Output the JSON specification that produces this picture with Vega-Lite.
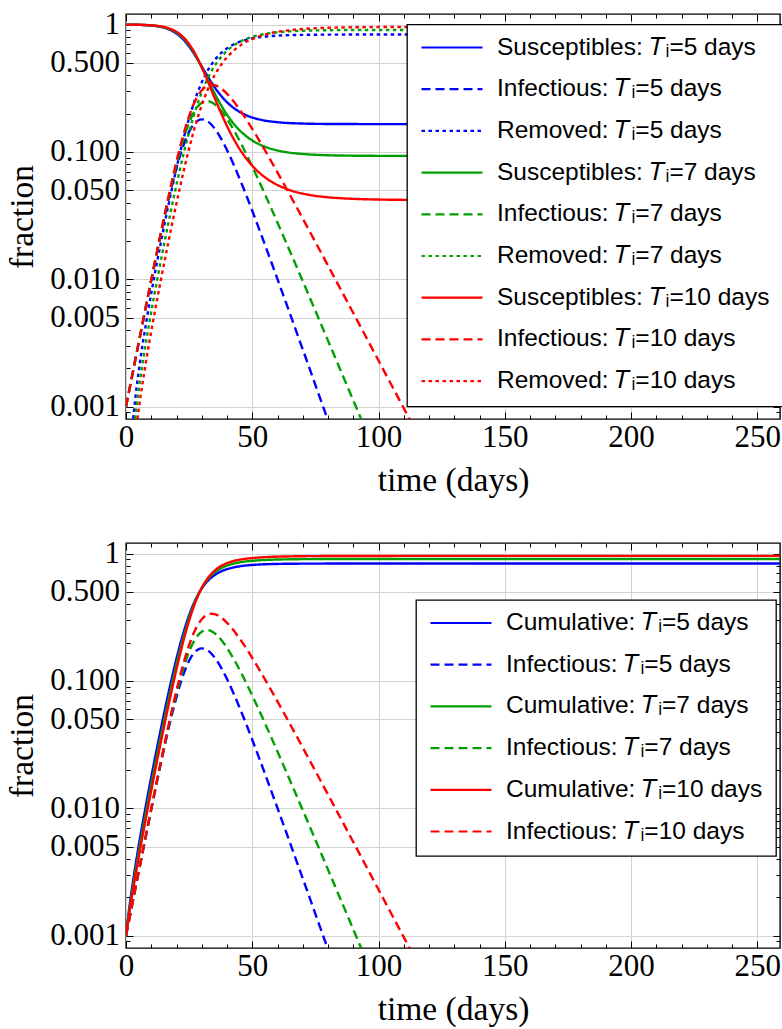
{
  "$schema": "https://vega.github.io/schema/vega-lite/v6.json",
  "padding": {"left": 5, "top": 7, "right": 0, "bottom": 0},
  "background": "white",
  "datasets": {
    "m": [
      {"t": 0, "S5": 0.999, "I5": 0.001, "C5": 0.001},
      {"t": 0.901, "S5": 0.998569, "I5": 0.0012306, "R5": 0.0002, "C5": 0.001431},
      {"t": 1.977, "S5": 0.997924, "I5": 0.001576, "R5": 0.0005, "C5": 0.002076},
      {"t": 3.33, "S5": 0.996849, "I5": 0.002151, "R5": 0.001, "C5": 0.003151},
      {"t": 5.191, "S5": 0.994703, "I5": 0.003297, "R5": 0.002, "C5": 0.005297},
      {"t": 8.314, "S5": 0.988293, "I5": 0.006707, "R5": 0.005, "C5": 0.011707},
      {"t": 11.022, "S5": 0.977699, "I5": 0.012301, "R5": 0.01, "C5": 0.022301},
      {"t": 13.931, "S5": 0.956853, "I5": 0.023147, "R5": 0.02, "C5": 0.043147},
      {"t": 18.054, "S5": 0.896942, "I5": 0.053058, "R5": 0.05, "C5": 0.103058},
      {"t": 21.493, "S5": 0.805317, "I5": 0.094683, "R5": 0.1, "C5": 0.194683},
      {"t": 23.75, "S5": 0.723041, "I5": 0.126959, "R5": 0.15, "C5": 0.276959},
      {"t": 25.545, "S5": 0.649177, "I5": 0.150823, "R5": 0.2, "C5": 0.350823},
      {"t": 27.114, "S5": 0.582858, "I5": 0.167142, "R5": 0.25, "C5": 0.417142},
      {"t": 28.563, "S5": 0.523313, "I5": 0.176687, "R5": 0.3, "C5": 0.476687},
      {"t": 29.961, "S5": 0.469853, "I5": 0.180147, "R5": 0.35, "C5": 0.530147},
      {"t": 31.353, "S5": 0.421852, "I5": 0.178148, "R5": 0.4, "C5": 0.578148},
      {"t": 32.781, "S5": 0.378756, "I5": 0.171244, "R5": 0.45, "C5": 0.621244},
      {"t": 34.288, "S5": 0.340063, "I5": 0.159937, "R5": 0.5, "C5": 0.659937},
      {"t": 35.927, "S5": 0.305322, "I5": 0.144678, "R5": 0.55, "C5": 0.694678},
      {"t": 37.775, "S5": 0.274131, "I5": 0.125869, "R5": 0.6, "C5": 0.725869},
      {"t": 39.953, "S5": 0.246126, "I5": 0.103874, "R5": 0.65, "C5": 0.753874},
      {"t": 42.697, "S5": 0.220982, "I5": 0.079018, "R5": 0.7, "C5": 0.779018},
      {"t": 46.571, "S5": 0.198406, "I5": 0.051594, "R5": 0.75, "C5": 0.801594},
      {"t": 53.753, "S5": 0.178138, "I5": 0.021862, "R5": 0.8, "C5": 0.821862},
      {"t": 60, "S5": 0.171173, "I5": 0.010022, "R5": 0.818805, "C5": 0.828827},
      {"t": 70, "S5": 0.166949, "I5": 0.002814, "R5": 0.830237, "C5": 0.833051},
      {"t": 80, "S5": 0.165756, "I5": 0.000779, "R5": 0.833465, "C5": 0.834244},
      {"t": 90, "S5": 0.165426, "I5": 0.000215, "R5": 0.834359, "C5": 0.834574},
      {"t": 120, "S5": 0.16531, "R5": 0.83469, "C5": 0.83469},
      {"t": 260, "S5": 0.1653, "R5": 0.8347, "C5": 0.8347},

      {"t": 0, "S7": 0.999, "I7": 0.001, "C7": 0.001},
      {"t": 1.215, "S7": 0.998477, "I7": 0.001323, "R7": 0.0002, "C7": 0.001523},
      {"t": 2.57, "S7": 0.997693, "I7": 0.001807, "R7": 0.0005, "C7": 0.002307},
      {"t": 4.173, "S7": 0.996389, "I7": 0.002611, "R7": 0.001, "C7": 0.003611},
      {"t": 6.261, "S7": 0.993785, "I7": 0.004215, "R7": 0.002, "C7": 0.006215},
      {"t": 9.591, "S7": 0.986015, "I7": 0.008985, "R7": 0.005, "C7": 0.013985},
      {"t": 12.386, "S7": 0.973192, "I7": 0.016808, "R7": 0.01, "C7": 0.026808},
      {"t": 15.348, "S7": 0.94805, "I7": 0.03195, "R7": 0.02, "C7": 0.05195},
      {"t": 19.518, "S7": 0.876457, "I7": 0.073543, "R7": 0.05, "C7": 0.123543},
      {"t": 22.993, "S7": 0.768946, "I7": 0.131054, "R7": 0.1, "C7": 0.231054},
      {"t": 25.277, "S7": 0.674623, "I7": 0.175377, "R7": 0.15, "C7": 0.325377},
      {"t": 27.098, "S7": 0.59187, "I7": 0.20813, "R7": 0.2, "C7": 0.40813},
      {"t": 28.689, "S7": 0.519268, "I7": 0.230732, "R7": 0.25, "C7": 0.480732},
      {"t": 30.159, "S7": 0.455571, "I7": 0.244429, "R7": 0.3, "C7": 0.544429},
      {"t": 31.57, "S7": 0.399688, "I7": 0.250312, "R7": 0.35, "C7": 0.600312},
      {"t": 32.968, "S7": 0.35066, "I7": 0.24934, "R7": 0.4, "C7": 0.64934},
      {"t": 34.389, "S7": 0.307646, "I7": 0.242354, "R7": 0.45, "C7": 0.692354},
      {"t": 35.868, "S7": 0.269909, "I7": 0.230091, "R7": 0.5, "C7": 0.730091},
      {"t": 37.446, "S7": 0.2368, "I7": 0.2132, "R7": 0.55, "C7": 0.7632},
      {"t": 39.17, "S7": 0.207753, "I7": 0.192247, "R7": 0.6, "C7": 0.792247},
      {"t": 41.116, "S7": 0.18227, "I7": 0.16773, "R7": 0.65, "C7": 0.81773},
      {"t": 43.392, "S7": 0.159911, "I7": 0.140089, "R7": 0.7, "C7": 0.840089},
      {"t": 46.203, "S7": 0.140295, "I7": 0.109705, "R7": 0.75, "C7": 0.859705},
      {"t": 49.986, "S7": 0.123085, "I7": 0.076915, "R7": 0.8, "C7": 0.876915},
      {"t": 56.033, "S7": 0.107987, "I7": 0.042013, "R7": 0.85, "C7": 0.892013},
      {"t": 63.075, "S7": 0.099833, "I7": 0.020167, "R7": 0.88, "C7": 0.900167},
      {"t": 70, "S7": 0.096291, "I7": 0.009667, "R7": 0.894042, "C7": 0.903709},
      {"t": 80, "S7": 0.094143, "I7": 0.003299, "R7": 0.902558, "C7": 0.905857},
      {"t": 90, "S7": 0.093408, "I7": 0.001121, "R7": 0.905471, "C7": 0.906592},
      {"t": 100, "S7": 0.093159, "I7": 0.000381, "R7": 0.90646, "C7": 0.906841},
      {"t": 130, "S7": 0.09304, "R7": 0.90696, "C7": 0.90696},
      {"t": 260, "S7": 0.09303, "R7": 0.90697, "C7": 0.90697},

      {"t": 0, "S10": 0.999, "I10": 0.001, "C10": 0.001},
      {"t": 1.646, "S10": 0.998339, "I10": 0.001461, "R10": 0.0002, "C10": 0.001661},
      {"t": 3.329, "S10": 0.997348, "I10": 0.002152, "R10": 0.0005, "C10": 0.002652},
      {"t": 5.191, "S10": 0.995698, "I10": 0.003302, "R10": 0.001, "C10": 0.004302},
      {"t": 7.489, "S10": 0.992408, "I10": 0.005592, "R10": 0.002, "C10": 0.007592},
      {"t": 10.989, "S10": 0.9826, "I10": 0.0124, "R10": 0.005, "C10": 0.0174},
      {"t": 13.863, "S10": 0.966469, "I10": 0.023531, "R10": 0.01, "C10": 0.033531},
      {"t": 16.875, "S10": 0.934999, "I10": 0.045001, "R10": 0.02, "C10": 0.065001},
      {"t": 21.104, "S10": 0.846602, "I10": 0.103398, "R10": 0.05, "C10": 0.153398},
      {"t": 24.649, "S10": 0.717452, "I10": 0.182548, "R10": 0.1, "C10": 0.282548},
      {"t": 27.003, "S10": 0.608004, "I10": 0.241996, "R10": 0.15, "C10": 0.391996},
      {"t": 28.897, "S10": 0.515252, "I10": 0.284748, "R10": 0.2, "C10": 0.484748},
      {"t": 30.564, "S10": 0.436651, "I10": 0.313349, "R10": 0.25, "C10": 0.563349},
      {"t": 32.114, "S10": 0.370039, "I10": 0.329961, "R10": 0.3, "C10": 0.629961},
      {"t": 33.612, "S10": 0.313589, "I10": 0.336411, "R10": 0.35, "C10": 0.686411},
      {"t": 35.1, "S10": 0.265751, "I10": 0.334249, "R10": 0.4, "C10": 0.734249},
      {"t": 36.615, "S10": 0.225211, "I10": 0.324789, "R10": 0.45, "C10": 0.774789},
      {"t": 38.19, "S10": 0.190854, "I10": 0.309146, "R10": 0.5, "C10": 0.809146},
      {"t": 39.862, "S10": 0.161739, "I10": 0.288261, "R10": 0.55, "C10": 0.838261},
      {"t": 41.675, "S10": 0.137066, "I10": 0.262934, "R10": 0.6, "C10": 0.862934},
      {"t": 43.688, "S10": 0.116156, "I10": 0.233844, "R10": 0.65, "C10": 0.883844},
      {"t": 45.987, "S10": 0.098436, "I10": 0.201564, "R10": 0.7, "C10": 0.901564},
      {"t": 48.708, "S10": 0.083419, "I10": 0.166581, "R10": 0.75, "C10": 0.916581},
      {"t": 52.102, "S10": 0.070694, "I10": 0.129306, "R10": 0.8, "C10": 0.929306},
      {"t": 56.703, "S10": 0.05991, "I10": 0.09009, "R10": 0.85, "C10": 0.94009},
      {"t": 64.084, "S10": 0.05077, "I10": 0.04923, "R10": 0.9, "C10": 0.94923},
      {"t": 72.612, "S10": 0.04597, "I10": 0.02403, "R10": 0.93, "C10": 0.95403},
      {"t": 80, "S10": 0.044064, "I10": 0.012815, "R10": 0.943121, "C10": 0.955936},
      {"t": 90, "S10": 0.042809, "I10": 0.005438, "R10": 0.951753, "C10": 0.957191},
      {"t": 100, "S10": 0.042276, "I10": 0.002301, "R10": 0.955423, "C10": 0.957724},
      {"t": 110, "S10": 0.04205, "I10": 0.000973, "R10": 0.956977, "C10": 0.95795},
      {"t": 120, "S10": 0.041955, "I10": 0.000411, "R10": 0.957634, "C10": 0.958045},
      {"t": 160, "S10": 0.04189, "R10": 0.95811, "C10": 0.95811},
      {"t": 260, "S10": 0.041885, "R10": 0.958115, "C10": 0.958115}
    ]
  },
  "spacing": 124,
  "bounds": "flush",
  "vconcat": [
    {
      "width": 654,
      "height": 405,
      "data": {"name": "m"},
      "transform": [
        {"fold": ["S5", "I5", "R5", "S7", "I7", "R7", "S10", "I10", "R10"], "as": ["s", "v"]},
        {"filter": "isValid(datum.v) && datum.v > 0"}
      ],
      "layer": [
        {
          "mark": {"type": "line", "strokeWidth": 2.4, "clip": true, "interpolate": "monotone"},
          "encoding": {
            "x": {"field": "t", "type": "quantitative", "scale": {"domain": [0, 259], "nice": false, "zero": false},
                  "axis": {"orient": "bottom", "values": [0, 50, 100, 150, 200, 250], "tickSize": -7, "grid": true, "labelPadding": 10, "title": "time (days)", "titlePadding": 12}},
            "y": {"field": "v", "type": "quantitative", "scale": {"type": "log", "domain": [0.0008, 1.21], "nice": false},
                  "axis": {"orient": "left", "values": [0.001, 0.005, 0.01, 0.05, 0.1, 0.5, 1], "labelExpr": "datum.value >= 1 ? '1' : format(datum.value, '.3f')", "tickSize": -7, "grid": true, "labelPadding": 13.5, "title": "fraction", "titlePadding": 10}},
            "color": {"field": "s", "type": "nominal",
                      "scale": {"domain": ["S5", "I5", "R5", "S7", "I7", "R7", "S10", "I10", "R10"],
                                "range": ["#0000ff", "#0000ff", "#0000ff", "#00a000", "#00a000", "#00a000", "#ff0000", "#ff0000", "#ff0000"]},
                      "legend": {"orient": "none", "legendX": 281, "legendY": 10.5, "title": null,
                                 "labelExpr": "(slice(datum.label,0,1)=='S' ? 'Susceptibles' : slice(datum.label,0,1)=='I' ? 'Infectious' : slice(datum.label,0,1)=='R' ? 'Removed' : 'Cumulative') + ': 𝑇ᵢ=' + slice(datum.label,1) + ' days'"}},
            "strokeDash": {"field": "s", "type": "nominal",
                      "scale": {"domain": ["S5", "I5", "R5", "S7", "I7", "R7", "S10", "I10", "R10"],
                                "range": [[1, 0], [9, 5], [3.5, 3.5], [1, 0], [9, 5], [3.5, 3.5], [1, 0], [9, 5], [3.5, 3.5]]},
                      "legend": {"orient": "none", "legendX": 281, "legendY": 10.5, "title": null,
                                 "labelExpr": "(slice(datum.label,0,1)=='S' ? 'Susceptibles' : slice(datum.label,0,1)=='I' ? 'Infectious' : slice(datum.label,0,1)=='R' ? 'Removed' : 'Cumulative') + ': 𝑇ᵢ=' + slice(datum.label,1) + ' days'"}}
          }
        },
        {
          "mark": {"type": "point", "opacity": 0},
          "encoding": {
            "x": {"field": "t", "type": "quantitative", "axis": {"orient": "bottom", "values": [10, 20, 30, 40, 60, 70, 80, 90, 110, 120, 130, 140, 160, 170, 180, 190, 210, 220, 230, 240], "tickSize": -4, "labels": false, "grid": false, "title": null}},
            "y": {"field": "v", "type": "quantitative", "axis": {"orient": "left", "values": [0.0009, 0.002, 0.003, 0.004, 0.006, 0.007, 0.008, 0.009, 0.02, 0.03, 0.04, 0.06, 0.07, 0.08, 0.09, 0.2, 0.3, 0.4, 0.6, 0.7, 0.8, 0.9], "tickSize": -4, "labels": false, "grid": false, "title": null}}
          }
        },
        {
          "mark": {"type": "point", "opacity": 0},
          "encoding": {
            "x": {"field": "t", "type": "quantitative", "axis": {"orient": "top", "values": [0, 50, 100, 150, 200, 250], "tickSize": -7, "labels": false, "grid": false, "title": null}},
            "y": {"field": "v", "type": "quantitative", "axis": {"orient": "right", "values": [0.001, 0.005, 0.01, 0.05, 0.1, 0.5, 1], "tickSize": -7, "labels": false, "grid": false, "title": null}}
          }
        },
        {
          "mark": {"type": "point", "opacity": 0},
          "encoding": {
            "x": {"field": "t", "type": "quantitative", "axis": {"orient": "top", "values": [10, 20, 30, 40, 60, 70, 80, 90, 110, 120, 130, 140, 160, 170, 180, 190, 210, 220, 230, 240], "tickSize": -4, "labels": false, "grid": false, "title": null}},
            "y": {"field": "v", "type": "quantitative", "axis": {"orient": "right", "values": [0.0009, 0.002, 0.003, 0.004, 0.006, 0.007, 0.008, 0.009, 0.02, 0.03, 0.04, 0.06, 0.07, 0.08, 0.09, 0.2, 0.3, 0.4, 0.6, 0.7, 0.8, 0.9], "tickSize": -4, "labels": false, "grid": false, "title": null}}
          }
        }
      ],
      "resolve": {"axis": {"x": "independent", "y": "independent"}}
    },
    {
      "width": 654,
      "height": 405,
      "data": {"name": "m"},
      "transform": [
        {"fold": ["C5", "I5", "C7", "I7", "C10", "I10"], "as": ["s", "v"]},
        {"filter": "isValid(datum.v) && datum.v > 0"}
      ],
      "layer": [
        {
          "mark": {"type": "line", "strokeWidth": 2.4, "clip": true, "interpolate": "monotone"},
          "encoding": {
            "x": {"field": "t", "type": "quantitative", "scale": {"domain": [0, 259], "nice": false, "zero": false},
                  "axis": {"orient": "bottom", "values": [0, 50, 100, 150, 200, 250], "tickSize": -7, "grid": true, "labelPadding": 10, "title": "time (days)", "titlePadding": 12}},
            "y": {"field": "v", "type": "quantitative", "scale": {"type": "log", "domain": [0.0008, 1.21], "nice": false},
                  "axis": {"orient": "left", "values": [0.001, 0.005, 0.01, 0.05, 0.1, 0.5, 1], "labelExpr": "datum.value >= 1 ? '1' : format(datum.value, '.3f')", "tickSize": -7, "grid": true, "labelPadding": 13.5, "title": "fraction", "titlePadding": 10}},
            "color": {"field": "s", "type": "nominal",
                      "scale": {"domain": ["C5", "I5", "C7", "I7", "C10", "I10"],
                                "range": ["#0000ff", "#0000ff", "#00a000", "#00a000", "#ff0000", "#ff0000"]},
                      "legend": {"orient": "none", "legendX": 290, "legendY": 57, "title": null,
                                 "labelExpr": "(slice(datum.label,0,1)=='S' ? 'Susceptibles' : slice(datum.label,0,1)=='I' ? 'Infectious' : slice(datum.label,0,1)=='R' ? 'Removed' : 'Cumulative') + ': 𝑇ᵢ=' + slice(datum.label,1) + ' days'"}},
            "strokeDash": {"field": "s", "type": "nominal",
                      "scale": {"domain": ["C5", "I5", "C7", "I7", "C10", "I10"],
                                "range": [[1, 0], [9, 5], [1, 0], [9, 5], [1, 0], [9, 5]]},
                      "legend": {"orient": "none", "legendX": 290, "legendY": 57, "title": null,
                                 "labelExpr": "(slice(datum.label,0,1)=='S' ? 'Susceptibles' : slice(datum.label,0,1)=='I' ? 'Infectious' : slice(datum.label,0,1)=='R' ? 'Removed' : 'Cumulative') + ': 𝑇ᵢ=' + slice(datum.label,1) + ' days'"}}
          }
        },
        {
          "mark": {"type": "point", "opacity": 0},
          "encoding": {
            "x": {"field": "t", "type": "quantitative", "axis": {"orient": "bottom", "values": [10, 20, 30, 40, 60, 70, 80, 90, 110, 120, 130, 140, 160, 170, 180, 190, 210, 220, 230, 240], "tickSize": -4, "labels": false, "grid": false, "title": null}},
            "y": {"field": "v", "type": "quantitative", "axis": {"orient": "left", "values": [0.0009, 0.002, 0.003, 0.004, 0.006, 0.007, 0.008, 0.009, 0.02, 0.03, 0.04, 0.06, 0.07, 0.08, 0.09, 0.2, 0.3, 0.4, 0.6, 0.7, 0.8, 0.9], "tickSize": -4, "labels": false, "grid": false, "title": null}}
          }
        },
        {
          "mark": {"type": "point", "opacity": 0},
          "encoding": {
            "x": {"field": "t", "type": "quantitative", "axis": {"orient": "top", "values": [0, 50, 100, 150, 200, 250], "tickSize": -7, "labels": false, "grid": false, "title": null}},
            "y": {"field": "v", "type": "quantitative", "axis": {"orient": "right", "values": [0.001, 0.005, 0.01, 0.05, 0.1, 0.5, 1], "tickSize": -7, "labels": false, "grid": false, "title": null}}
          }
        },
        {
          "mark": {"type": "point", "opacity": 0},
          "encoding": {
            "x": {"field": "t", "type": "quantitative", "axis": {"orient": "top", "values": [10, 20, 30, 40, 60, 70, 80, 90, 110, 120, 130, 140, 160, 170, 180, 190, 210, 220, 230, 240], "tickSize": -4, "labels": false, "grid": false, "title": null}},
            "y": {"field": "v", "type": "quantitative", "axis": {"orient": "right", "values": [0.0009, 0.002, 0.003, 0.004, 0.006, 0.007, 0.008, 0.009, 0.02, 0.03, 0.04, 0.06, 0.07, 0.08, 0.09, 0.2, 0.3, 0.4, 0.6, 0.7, 0.8, 0.9], "tickSize": -4, "labels": false, "grid": false, "title": null}}
          }
        }
      ],
      "resolve": {"axis": {"x": "independent", "y": "independent"}}
    }
  ],
  "resolve": {"scale": {"color": "independent", "strokeDash": "independent"}, "legend": {"color": "independent", "strokeDash": "independent"}},
  "config": {
    "view": {"stroke": "black", "strokeWidth": 1.4},
    "axis": {
      "domain": false, "tickColor": "black", "tickWidth": 1,
      "labelFont": "Liberation Serif", "labelFontSize": 31, "labelColor": "black",
      "titleFont": "Liberation Serif", "titleFontSize": 33.5, "titleFontWeight": "normal", "titleColor": "black",
      "gridColor": "#d2d2d2", "gridWidth": 1, "labelFlush": false, "labelOverlap": false
    },
    "legend": {
      "symbolType": "stroke", "symbolSize": 3721, "symbolStrokeWidth": 2.2,
      "labelFont": "Liberation Sans", "labelFontSize": 24.5, "labelColor": "black", "labelOffset": 13, "labelLimit": 400,
      "padding": 13, "rowPadding": 16.7, "clipHeight": 20,
      "strokeColor": "black", "fillColor": "white", "strokeWidth": 1.3, "cornerRadius": 0
    }
  }
}
